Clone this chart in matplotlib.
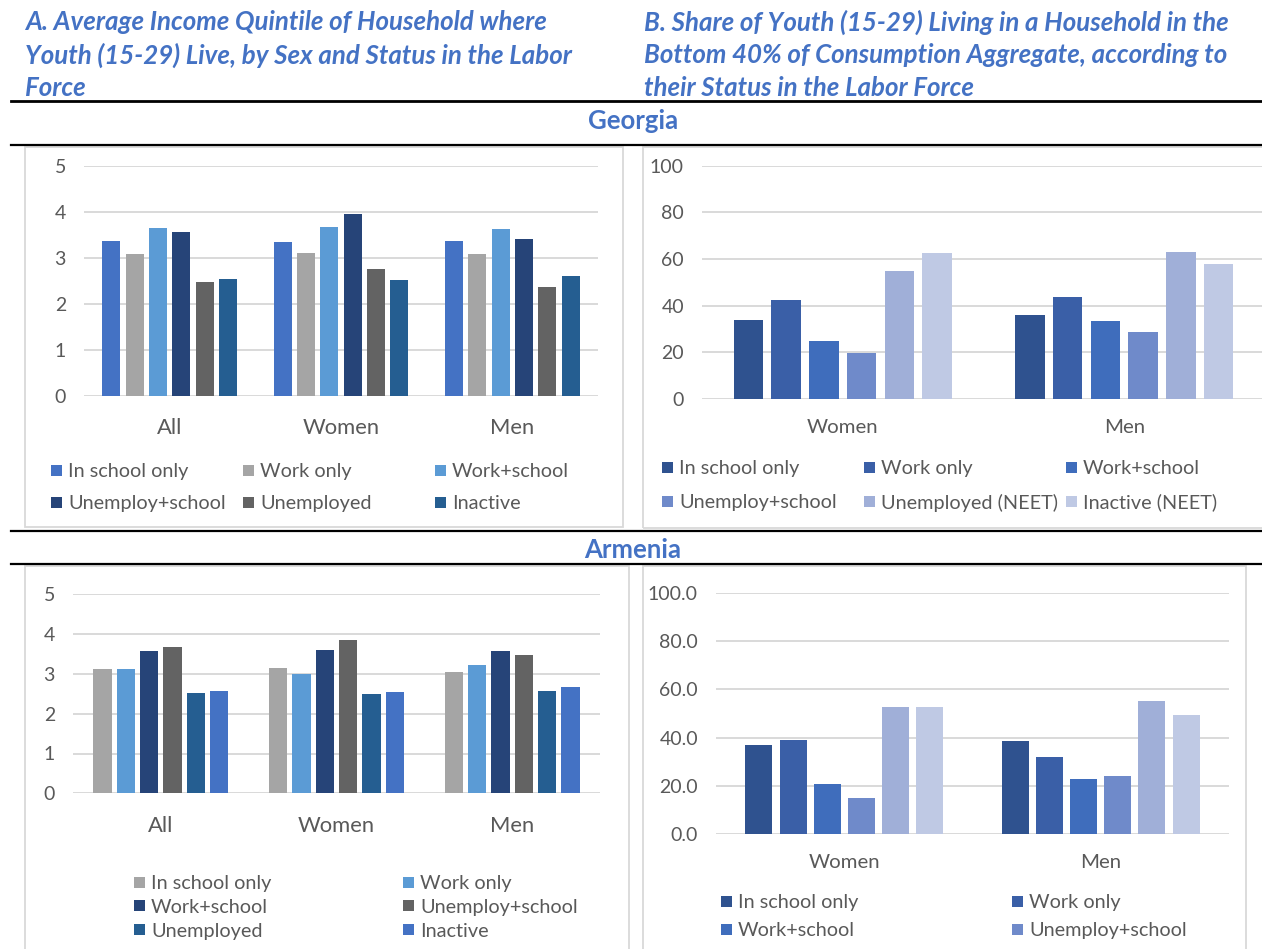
import numpy as np
import matplotlib
matplotlib.use("Agg")
import matplotlib.pyplot as plt
from matplotlib.patches import Rectangle
from matplotlib.lines import Line2D

plt.rcParams['font.family'] = ['Lato', 'DejaVu Sans']

W, H = 1262, 949
BLUE = '#4472C4'
TXT = '#595959'
GRID = '#D9D9D9'

# categories
groups_all = ['All', 'Women', 'Men']
groups_sex = ['Women', 'Men']

# Georgia - A: average income quintile (All, Women, Men)
geo_labels_a = ['In school only', 'Work only', 'Work+school',
                'Unemploy+school', 'Unemployed', 'Inactive']
geo_a_in_school = [3.36, 3.35, 3.36]
geo_a_work = [3.09, 3.11, 3.08]
geo_a_work_school = [3.64, 3.67, 3.62]
geo_a_unemp_school = [3.55, 3.95, 3.40]
geo_a_unemployed = [2.48, 2.76, 2.37]
geo_a_inactive = [2.53, 2.51, 2.60]

# Georgia - B: share in bottom 40% (Women, Men)
geo_labels_b = ['In school only', 'Work only', 'Work+school',
                'Unemploy+school', 'Unemployed (NEET)', 'Inactive (NEET)']
geo_b_in_school = [33.7, 36.0]
geo_b_work = [42.6, 43.7]
geo_b_work_school = [24.9, 33.3]
geo_b_unemp_school = [19.6, 28.9]
geo_b_unemployed = [54.7, 62.9]
geo_b_inactive = [62.6, 57.9]

# Armenia - A
arm_labels_a = ['In school only', 'Work only', 'Work+school',
                'Unemploy+school', 'Unemployed', 'Inactive']
arm_a_in_school = [3.12, 3.15, 3.05]
arm_a_work = [3.13, 2.99, 3.22]
arm_a_work_school = [3.58, 3.61, 3.57]
arm_a_unemp_school = [3.67, 3.85, 3.48]
arm_a_unemployed = [2.52, 2.50, 2.56]
arm_a_inactive = [2.58, 2.55, 2.67]

# Armenia - B (only the first two legend rows fit on the page)
arm_labels_b = ['In school only', 'Work only', 'Work+school',
                'Unemploy+school']
arm_b_in_school = [36.9, 38.5]
arm_b_work = [39.0, 32.1]
arm_b_work_school = [20.8, 22.7]
arm_b_unemp_school = [15.2, 24.0]
arm_b_unemployed = [52.8, 55.2]
arm_b_inactive = [52.7, 49.4]

geo_colors_a = ['#4472C4', '#A5A5A5', '#5B9BD5', '#264478', '#636363', '#255E91']
arm_colors_a = ['#A5A5A5', '#5B9BD5', '#264478', '#636363', '#255E91', '#4472C4']
blues_b = ['#2F528F', '#3A5FA7', '#3F6DBC', '#6F8ACA', '#A0AFD8', '#BFC9E4']

fig = plt.figure(figsize=(W / 100, H / 100), dpi=100)


def fx(x):
    return x / W


def fy(y):
    return 1 - y / H


def rect(x0, y0, x1, y1):
    return [fx(x0), fy(y1), (x1 - x0) / W, (y1 - y0) / H]


def hline(y, x0=11, x1=W, lw=1.6):
    fig.add_artist(Line2D([fx(x0), fx(x1)], [fy(y), fy(y)], color='black',
                          lw=lw, transform=fig.transFigure))


def frame(x0, y0, x1, y1):
    fig.add_artist(Rectangle((fx(x0), fy(y1)), (x1 - x0) / W, (y1 - y0) / H,
                             fill=False, ec=GRID, lw=1.3,
                             transform=fig.transFigure))


def bar_panel(box, groups, series, colors, ylim, yticks, fmt,
              width, pitch, cat_size, cat_pad):
    ax = fig.add_axes(box)
    x = np.arange(len(groups))
    n = len(series)
    for i, (vals, c) in enumerate(zip(series, colors)):
        ax.bar(x + (i - (n - 1) / 2) * pitch, vals, width, color=c, zorder=3)
    ax.set_xlim(-0.5, len(groups) - 0.5)
    ax.set_ylim(*ylim)
    ax.set_yticks(yticks)
    ax.set_yticklabels([fmt.format(v) for v in yticks])
    ax.set_xticks(x)
    ax.set_xticklabels(groups)
    ax.tick_params(axis='y', length=0, pad=13, labelsize=14, colors=TXT)
    ax.tick_params(axis='x', length=0, pad=cat_pad, labelsize=cat_size, colors=TXT)
    ax.grid(axis='y', color=GRID, lw=1.4, zorder=0)
    ax.set_axisbelow(True)
    for s in ax.spines.values():
        s.set_visible(False)
    ax.patch.set_visible(False)
    return ax


def legend_grid(labels, colors, x0, y0, dx, dy, ncol):
    for k, (lab, c) in enumerate(zip(labels, colors)):
        r, col = divmod(k, ncol)
        x = x0 + col * dx
        y = y0 + r * dy
        fig.add_artist(Rectangle((fx(x), fy(y + 5.5)), 11 / W, 11 / H,
                                 color=c, lw=0, transform=fig.transFigure))
        fig.text(fx(x + 17), fy(y), lab, ha='left', va='center_baseline',
                 fontsize=14.3, color=TXT)


# headings
title_kw = dict(fontsize=18.6, fontweight='bold', fontstyle='italic',
                color=BLUE, ha='left', va='center_baseline')
fig.text(fx(25), fy(20), 'A. Average Income Quintile of Household where', **title_kw)
fig.text(fx(25), fy(53), 'Youth (15-29) Live, by Sex and Status in the Labor', **title_kw)
fig.text(fx(25), fy(86), 'Force', **title_kw)
fig.text(fx(644), fy(20), 'B. Share of Youth (15-29) Living in a Household in the', **title_kw)
fig.text(fx(644), fy(53), 'Bottom 40% of Consumption Aggregate, according to', **title_kw)
fig.text(fx(644), fy(86), 'their Status in the Labor Force', **title_kw)

country_kw = dict(fontsize=18.5, fontweight='bold', color=BLUE,
                  ha='center', va='center_baseline')
fig.text(fx(633), fy(119), 'Georgia', **country_kw)
fig.text(fx(633), fy(548), 'Armenia', **country_kw)

hline(101, lw=2.0)
hline(145)
hline(531)
hline(564)

frame(25, 147, 623, 527)
frame(643, 147, 1275, 528)
frame(25, 566, 629, 960)
frame(643, 566, 1246, 960)

# Georgia panels
bar_panel(rect(84, 165.7, 598, 395.7), groups_all,
          [geo_a_in_school, geo_a_work, geo_a_work_school,
           geo_a_unemp_school, geo_a_unemployed, geo_a_inactive],
          geo_colors_a, (0, 5), [0, 1, 2, 3, 4, 5], '{:d}',
          0.106, 0.136, 15.8, 16)
legend_grid(geo_labels_a, geo_colors_a, 51, 470, 192, 32, 3)

bar_panel(rect(702, 165.7, 1265, 399), groups_sex,
          [geo_b_in_school, geo_b_work, geo_b_work_school,
           geo_b_unemp_school, geo_b_unemployed, geo_b_inactive],
          blues_b, (0, 100), [0, 20, 40, 60, 80, 100], '{:d}',
          0.105, 0.134, 14.7, 14.5)
legend_grid(geo_labels_b, blues_b, 662, 467, 202, 34, 3)

# Armenia panels
bar_panel(rect(73, 594.3, 600, 793.3), groups_all,
          [arm_a_in_school, arm_a_work, arm_a_work_school,
           arm_a_unemp_school, arm_a_unemployed, arm_a_inactive],
          arm_colors_a, (0, 5), [0, 1, 2, 3, 4, 5], '{:d}',
          0.104, 0.133, 15.8, 16)
legend_grid(arm_labels_a, arm_colors_a, 134, 882, 269, 23.8, 2)

bar_panel(rect(716, 592.7, 1229, 834.3), groups_sex,
          [arm_b_in_school, arm_b_work, arm_b_work_school,
           arm_b_unemp_school, arm_b_unemployed, arm_b_inactive],
          blues_b, (0, 100), [0, 20, 40, 60, 80, 100], '{:.1f}',
          0.105, 0.133, 14.7, 14.5)
legend_grid(arm_labels_b, blues_b, 721, 901, 291, 28.3, 2)

fig.savefig('out.png', dpi=100)
